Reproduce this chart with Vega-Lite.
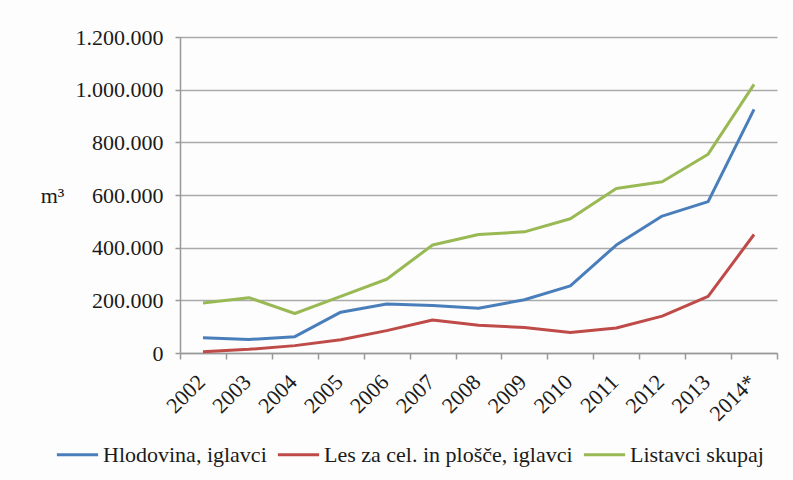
{
  "$schema": "https://vega.github.io/schema/vega-lite/v6.json",
  "autosize": {"type": "none"},
  "width": 597,
  "height": 316,
  "padding": {"left": 180, "top": 37, "right": 16, "bottom": 127},
  "background": "#fdfdfd",
  "data": {
    "values": [
      {"leto": "2002", "serija": "Hlodovina, iglavci", "m3": 58000},
      {"leto": "2003", "serija": "Hlodovina, iglavci", "m3": 51000},
      {"leto": "2004", "serija": "Hlodovina, iglavci", "m3": 62000},
      {"leto": "2005", "serija": "Hlodovina, iglavci", "m3": 155000},
      {"leto": "2006", "serija": "Hlodovina, iglavci", "m3": 186000},
      {"leto": "2007", "serija": "Hlodovina, iglavci", "m3": 180000},
      {"leto": "2008", "serija": "Hlodovina, iglavci", "m3": 170000},
      {"leto": "2009", "serija": "Hlodovina, iglavci", "m3": 202000},
      {"leto": "2010", "serija": "Hlodovina, iglavci", "m3": 255000},
      {"leto": "2011", "serija": "Hlodovina, iglavci", "m3": 410000},
      {"leto": "2012", "serija": "Hlodovina, iglavci", "m3": 520000},
      {"leto": "2013", "serija": "Hlodovina, iglavci", "m3": 575000},
      {"leto": "2014*", "serija": "Hlodovina, iglavci", "m3": 925000},
      {"leto": "2002", "serija": "Les za cel. in plošče, iglavci", "m3": 5000},
      {"leto": "2003", "serija": "Les za cel. in plošče, iglavci", "m3": 14000},
      {"leto": "2004", "serija": "Les za cel. in plošče, iglavci", "m3": 28000},
      {"leto": "2005", "serija": "Les za cel. in plošče, iglavci", "m3": 50000},
      {"leto": "2006", "serija": "Les za cel. in plošče, iglavci", "m3": 85000},
      {"leto": "2007", "serija": "Les za cel. in plošče, iglavci", "m3": 125000},
      {"leto": "2008", "serija": "Les za cel. in plošče, iglavci", "m3": 105000},
      {"leto": "2009", "serija": "Les za cel. in plošče, iglavci", "m3": 97000},
      {"leto": "2010", "serija": "Les za cel. in plošče, iglavci", "m3": 78000},
      {"leto": "2011", "serija": "Les za cel. in plošče, iglavci", "m3": 95000},
      {"leto": "2012", "serija": "Les za cel. in plošče, iglavci", "m3": 140000},
      {"leto": "2013", "serija": "Les za cel. in plošče, iglavci", "m3": 215000},
      {"leto": "2014*", "serija": "Les za cel. in plošče, iglavci", "m3": 450000},
      {"leto": "2002", "serija": "Listavci skupaj", "m3": 190000},
      {"leto": "2003", "serija": "Listavci skupaj", "m3": 210000},
      {"leto": "2004", "serija": "Listavci skupaj", "m3": 150000},
      {"leto": "2005", "serija": "Listavci skupaj", "m3": 215000},
      {"leto": "2006", "serija": "Listavci skupaj", "m3": 280000},
      {"leto": "2007", "serija": "Listavci skupaj", "m3": 410000},
      {"leto": "2008", "serija": "Listavci skupaj", "m3": 450000},
      {"leto": "2009", "serija": "Listavci skupaj", "m3": 460000},
      {"leto": "2010", "serija": "Listavci skupaj", "m3": 510000},
      {"leto": "2011", "serija": "Listavci skupaj", "m3": 625000},
      {"leto": "2012", "serija": "Listavci skupaj", "m3": 650000},
      {"leto": "2013", "serija": "Listavci skupaj", "m3": 755000},
      {"leto": "2014*", "serija": "Listavci skupaj", "m3": 1020000}
    ]
  },
  "mark": {"type": "line", "strokeWidth": 3, "strokeJoin": "round"},
  "encoding": {
    "x": {
      "field": "leto",
      "type": "ordinal",
      "scale": {"type": "band", "paddingInner": 0, "paddingOuter": 0},
      "axis": {
        "title": null,
        "labelAngle": -45,
        "labelAlign": "right",
        "labelBaseline": "middle",
        "labelPadding": 19,
        "labelOffset": -2,
        "bandPosition": 0,
        "tickBand": "extent",
        "tickSize": 6,
        "tickColor": "#999",
        "tickWidth": 1.5,
        "domainColor": "#999",
        "domainWidth": 1.5,
        "grid": false,
        "labelFont": "Liberation Serif",
        "labelFontSize": 22,
        "labelColor": "#1a1a1a"
      }
    },
    "y": {
      "field": "m3",
      "type": "quantitative",
      "scale": {"domain": [0, 1200000], "nice": false},
      "axis": {
        "values": [0, 200000, 400000, 600000, 800000, 1000000, 1200000],
        "format": ",d",
        "title": "m³",
        "titleAngle": 0,
        "titleX": -128,
        "titleY": 158,
        "titleAlign": "center",
        "titleBaseline": "middle",
        "titleFont": "Liberation Serif",
        "titleFontSize": 22,
        "titleFontWeight": "normal",
        "titleColor": "#1a1a1a",
        "labelFont": "Liberation Serif",
        "labelFontSize": 22,
        "labelColor": "#1a1a1a",
        "labelPadding": 12,
        "tickSize": 5,
        "tickColor": "#999",
        "tickWidth": 1.5,
        "domain": true,
        "domainColor": "#999",
        "domainWidth": 1.5,
        "grid": true,
        "gridColor": "#aaa",
        "gridWidth": 1.5
      }
    },
    "color": {
      "field": "serija",
      "type": "nominal",
      "sort": ["Hlodovina, iglavci", "Les za cel. in plošče, iglavci", "Listavci skupaj"],
      "scale": {
        "domain": ["Hlodovina, iglavci", "Les za cel. in plošče, iglavci", "Listavci skupaj"],
        "range": ["#4a7ebb", "#be4b48", "#98b954"]
      },
      "legend": {
        "title": null,
        "orient": "none",
        "legendX": -125,
        "legendY": 395,
        "direction": "horizontal",
        "symbolType": "stroke",
        "symbolSize": 1700,
        "symbolStrokeWidth": 3,
        "labelFont": "Liberation Serif",
        "labelFontSize": 22,
        "labelColor": "#1a1a1a",
        "labelOffset": 3,
        "columnPadding": 4,
        "labelLimit": 400
      }
    }
  },
  "config": {
    "view": {"stroke": null},
    "locale": {"number": {"decimal": ",", "thousands": ".", "grouping": [3], "currency": ["", " €"]}}
  }
}
